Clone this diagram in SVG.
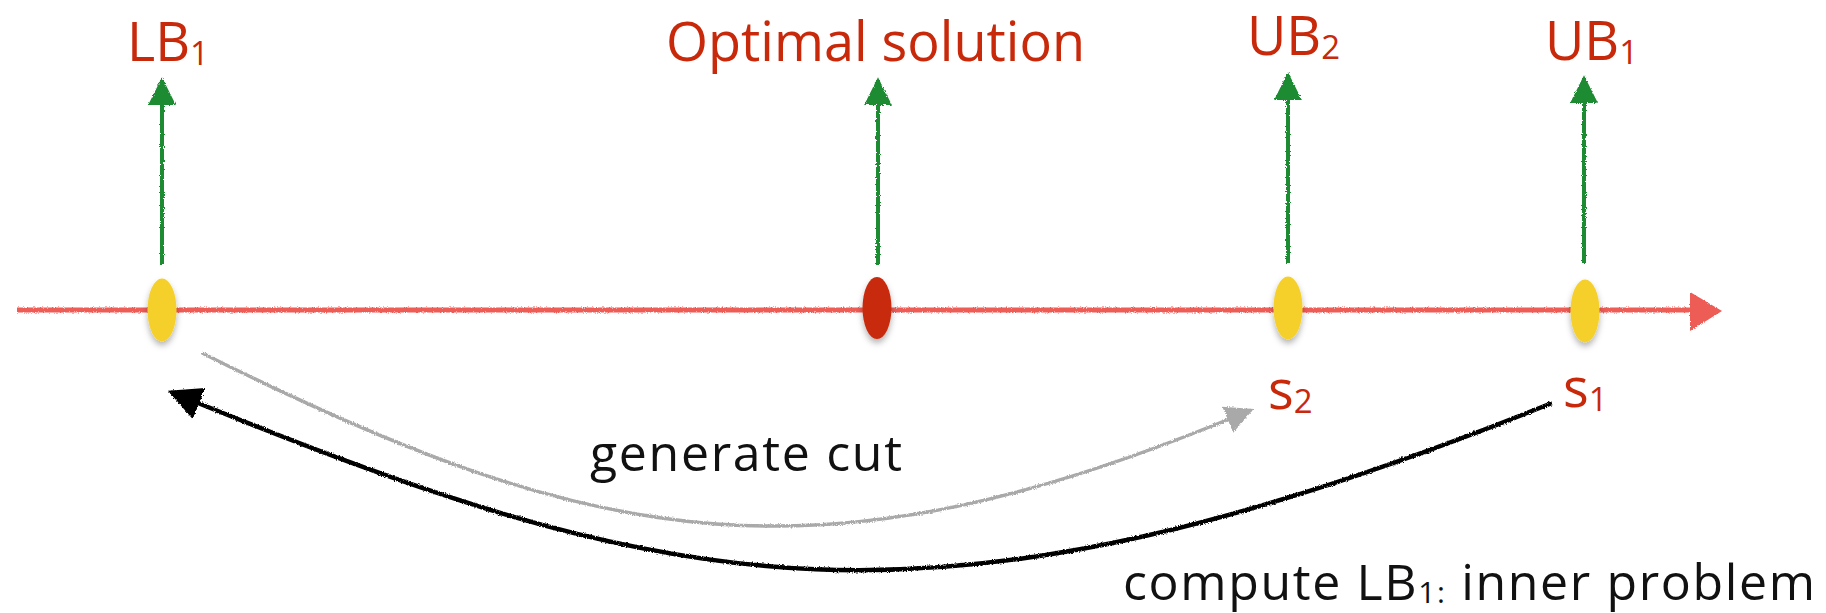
<svg xmlns="http://www.w3.org/2000/svg" width="1826" height="613" viewBox="0 0 1826 613">
<style>
.lbl{font-family:"Open Sans","Noto Sans",sans-serif;font-size:54px;fill:#C8290A}
.cap{font-family:"Open Sans","Noto Sans",sans-serif;font-size:50px;fill:#111}
.green{stroke:#1E8B32;stroke-width:4;fill:none}
.pt{fill:#F5D02A;filter:url(#shadow)}
</style>
<defs>
<filter id="rough" x="-5%" y="-20%" width="110%" height="140%">
<feTurbulence type="fractalNoise" baseFrequency="0.9" numOctaves="2" seed="3" result="n"/>
<feDisplacementMap in="SourceGraphic" in2="n" scale="3" xChannelSelector="R" yChannelSelector="G"/>
</filter>
<filter id="shadow" x="-100%" y="-50%" width="300%" height="200%">
<feDropShadow dx="0" dy="4" stdDeviation="3" flood-color="#000" flood-opacity="0.3"/>
</filter>
<marker id="ahG" viewBox="0 0 10 10" refX="9" refY="5" markerWidth="7" markerHeight="7.5" markerUnits="strokeWidth" orient="auto">
<path d="M0,0 L10,5 L0,10 Z" fill="#1E8B32"/>
</marker>
<marker id="ahGray" viewBox="0 0 10 10" refX="9" refY="5" markerWidth="8" markerHeight="8.5" markerUnits="strokeWidth" orient="auto">
<path d="M0,0 L10,5 L0,10 Z" fill="#A9A9A9"/>
</marker>
<marker id="ahK" viewBox="0 0 10 10" refX="9" refY="5" markerWidth="7.5" markerHeight="7.5" markerUnits="strokeWidth" orient="auto">
<path d="M0,0 L10,5 L0,10 Z" fill="#000"/>
</marker>
</defs>
<rect width="1826" height="613" fill="#fff"/>

<g id="connectors" filter="url(#rough)">
<g id="axis">
<line x1="17" y1="310" x2="1695" y2="310" stroke="#EE5B57" stroke-width="5"/>
<path d="M1690,292 L1722,311 L1690,331 Z" fill="#EE5B57"/>
</g>
<line x1="162" y1="265" x2="162" y2="80" class="green" marker-end="url(#ahG)"/>
<line x1="878" y1="265" x2="878" y2="80" class="green" marker-end="url(#ahG)"/>
<line x1="1288" y1="263" x2="1288" y2="75" class="green" marker-end="url(#ahG)"/>
<line x1="1584" y1="263" x2="1584" y2="78" class="green" marker-end="url(#ahG)"/>
<path id="cut" d="M202,353 C602,553 823,590 1251,410" fill="none" stroke="#A9A9A9" stroke-width="3.5" marker-end="url(#ahGray)"/>
<path id="inner" d="M1552,403 C926,655 674,598 171,392" fill="none" stroke="#000" stroke-width="4.5" marker-end="url(#ahK)"/>
</g>

<g id="LB1">
<ellipse class="pt" cx="162" cy="310" rx="14.5" ry="31.5"/>
<text class="lbl" x="127" y="61">LB<tspan font-size="33" dy="4">1</tspan></text>
</g>
<g id="optimal">
<ellipse class="pt" cx="877" cy="308" rx="14.5" ry="31" style="fill:#C8290A"/>
<text class="lbl" x="666" y="61">Optimal solution</text>
</g>
<g id="UB2">
<ellipse class="pt" cx="1288" cy="308" rx="14.5" ry="31.5"/>
<text class="lbl" x="1247" y="55">UB<tspan font-size="33" dy="4">2</tspan></text>
<text class="lbl" x="1268" y="409">s<tspan font-size="33" dy="4">2</tspan></text>
</g>
<g id="UB1">
<ellipse class="pt" cx="1585" cy="311" rx="14.5" ry="31.5"/>
<text class="lbl" x="1545" y="60">UB<tspan font-size="33" dy="4">1</tspan></text>
<text class="lbl" x="1563" y="407">s<tspan font-size="33" dy="4">1</tspan></text>
</g>
<g id="labels">
<text class="cap" x="590" y="471" textLength="312" lengthAdjust="spacing">generate cut</text>
<text class="cap" x="1123" y="600" textLength="692" lengthAdjust="spacing">compute LB<tspan font-size="30" dy="3">1:</tspan><tspan dy="-3"> inner problem</tspan></text>
</g>
</svg>
